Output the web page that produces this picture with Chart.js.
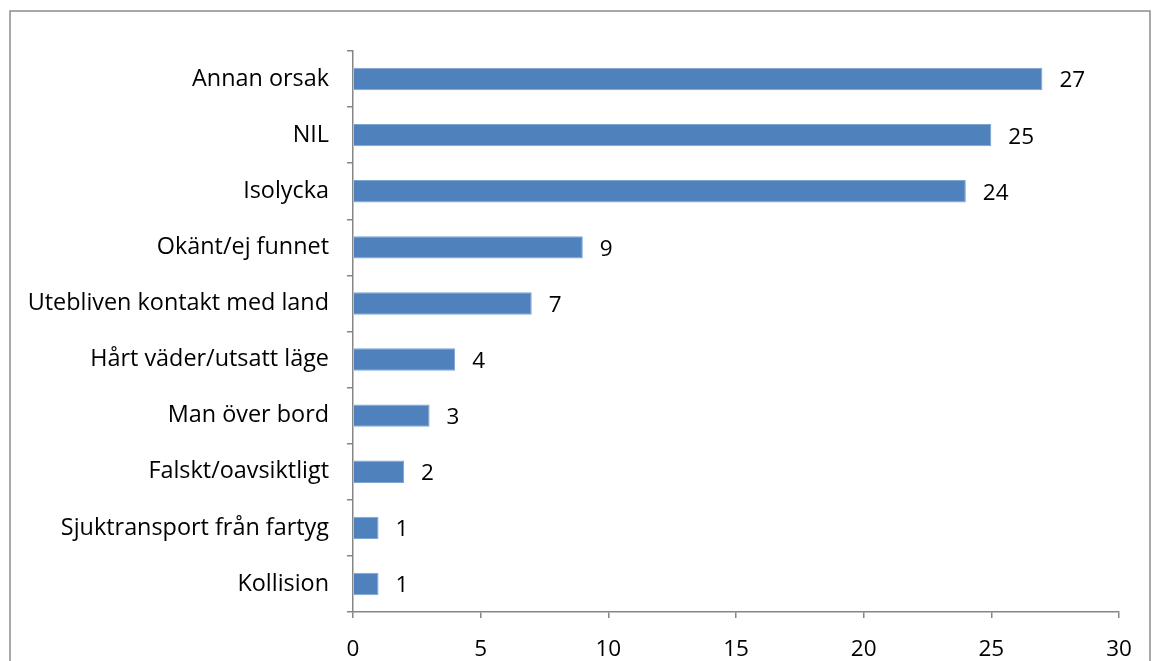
<!DOCTYPE html>
<html>
<head>
<meta charset="utf-8">
<script src="https://cdn.jsdelivr.net/npm/chart.js@4"></script>
<style>
  html, body { margin: 0; padding: 0; background: #fff; }
  #wrap { width: 1154px; height: 661px; }
</style>
</head>
<body>
<div id="wrap"><canvas id="causeChart" width="1154" height="661"></canvas></div>
<script>
// categories, top to bottom
const causes = [
  'Annan orsak',
  'NIL',
  'Isolycka',
  'Okänt/ej funnet',
  'Utebliven kontakt med land',
  'Hårt väder/utsatt läge',
  'Man över bord',
  'Falskt/oavsiktligt',
  'Sjuktransport från fartyg',
  'Kollision'
];
const counts = [27, 25, 24, 9, 7, 4, 3, 2, 1, 1];
const xTicks = [0, 5, 10, 15, 20, 25, 30];

const FONT = 'Open Sans';
const FONT_SIZE = 23.4;
const AXIS_GRAY = '#868686';

// grey frame round the whole chart
const framePlugin = {
  id: 'frame',
  beforeDraw(chart) {
    const ctx = chart.ctx;
    ctx.save();
    ctx.fillStyle = '#fff';
    ctx.fillRect(0, 0, chart.width, chart.height);
    ctx.strokeStyle = '#8c8c8c';
    ctx.lineWidth = 1.5;
    ctx.strokeRect(10, 11, 1140, 700);
    ctx.restore();
  }
};

// value labels to the right of each bar
const valueLabels = {
  id: 'valueLabels',
  afterDatasetsDraw(chart) {
    const ctx = chart.ctx;
    const meta = chart.getDatasetMeta(0);
    ctx.save();
    ctx.font = '22.5px "' + FONT + '"';
    ctx.fillStyle = '#000';
    ctx.textAlign = 'left';
    ctx.textBaseline = 'middle';
    meta.data.forEach((bar, i) => {
      ctx.fillText(String(counts[i]), bar.x + 17, bar.y + 2);
    });
    ctx.restore();
  }
};

new Chart(document.getElementById('causeChart'), {
  type: 'bar',
  data: {
    labels: causes,
    datasets: [{
      data: counts,
      backgroundColor: '#4F81BD',
      borderColor: '#7FA3D0',
      borderWidth: 1,
      borderSkipped: 'start',
      categoryPercentage: 1,
      barPercentage: 0.4
    }]
  },
  options: {
    indexAxis: 'y',
    responsive: false,
    animation: false,
    layout: { padding: { top: 51, right: 35, left: 0, bottom: 0 } },
    plugins: {
      legend: { display: false },
      tooltip: { enabled: false }
    },
    scales: {
      x: {
        type: 'linear',
        min: 0,
        max: 30,
        afterBuildTicks(scale) { scale.ticks = xTicks.map(v => ({ value: v })); },
        afterFit(scale) { scale.height = 49; },
        border: { color: AXIS_GRAY, width: 1.5 },
        grid: { drawOnChartArea: false, tickLength: 6, color: AXIS_GRAY, lineWidth: 1.5 },
        ticks: { color: '#000', padding: 18, font: { family: FONT, size: 22.5 } }
      },
      y: {
        afterFit(scale) { scale.width = 353; },
        border: { color: AXIS_GRAY, width: 1.5 },
        grid: { drawOnChartArea: false, offset: true, tickLength: 6, color: AXIS_GRAY, lineWidth: 1.5 },
        ticks: { color: '#000', padding: 18, font: { family: FONT, size: FONT_SIZE } }
      }
    }
  },
  plugins: [framePlugin, valueLabels]
});
</script>
</body>
</html>
